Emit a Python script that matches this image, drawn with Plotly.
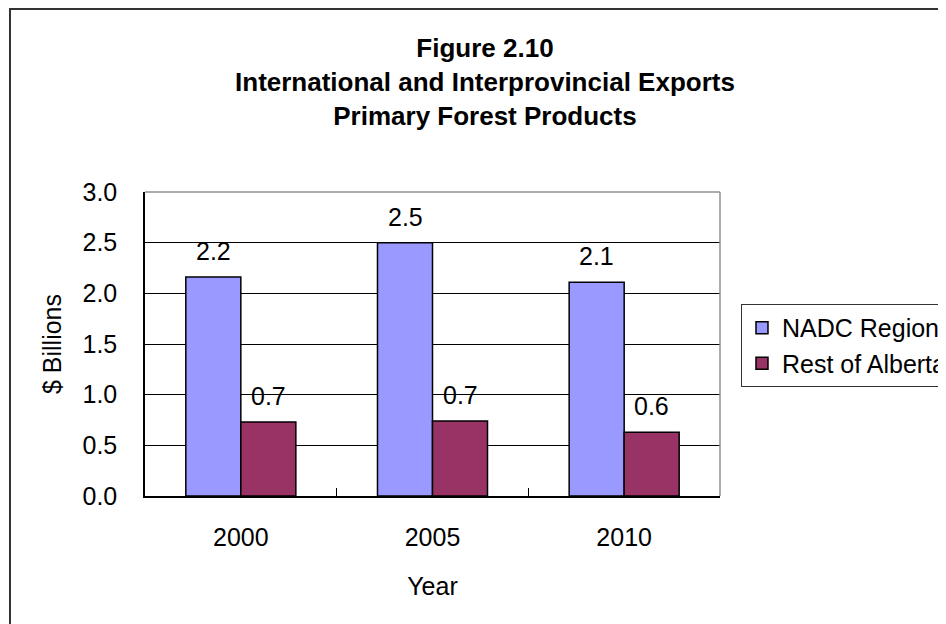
import plotly.graph_objects as go

# 데이터
years = ["2000", "2005", "2010"]
nadc_region = [2.16, 2.50, 2.11]
rest_of_alberta = [0.73, 0.74, 0.63]

series_names = ["NADC Region", "Rest of Alberta"]
series_colors = ["#9999FF", "#993366"]

FONT = "Liberation Sans, Arial, sans-serif"

fig = go.Figure()

for name, vals, col in zip(series_names, [nadc_region, rest_of_alberta], series_colors):
    fig.add_trace(go.Bar(
        x=years,
        y=vals,
        name=name,
        marker=dict(color=col, line=dict(color="#000000", width=1.5)),
        hoverinfo="x+y+name"
    ))

# 막대 위 값 라벨 (막대 위에 조금 띄워서)
# 카테고리축에서 "2000" 같은 문자열은 숫자 인덱스로 읽혀서, 인덱스로 넘긴다
bar_px = 55
annos = []
for i, vals in enumerate([nadc_region, rest_of_alberta]):
    shift = -bar_px / 2 if i == 0 else bar_px / 2
    for j, v in enumerate(vals):
        annos.append(dict(
            x=j, y=v, xref="x", yref="y",
            text=f"{v:.1f}", showarrow=False,
            xanchor="center", yanchor="bottom",
            xshift=shift, yshift=10,
            font=dict(family=FONT, size=25, color="#000000")
        ))

# 바깥 테두리 + 플롯영역 위/오른쪽 회색선
shapes = [
    dict(type="rect", xref="paper", yref="paper",
         x0=-0.2348, y0=-0.6, x1=1.6, y1=1.602,
         line=dict(color="#333333", width=2), layer="below"),
    dict(type="line", xref="paper", yref="paper",
         x0=0, y0=1, x1=1, y1=1, line=dict(color="#909090", width=1.5), layer="above"),
    dict(type="line", xref="paper", yref="paper",
         x0=1, y0=0, x1=1, y1=1, line=dict(color="#909090", width=1.5), layer="above"),
]

fig.update_layout(
    width=946, height=624,
    paper_bgcolor="white",
    plot_bgcolor="white",
    font=dict(family=FONT, size=25, color="#000000"),
    title=dict(
        text="<b>Figure 2.10<br>International and Interprovincial Exports<br>Primary Forest Products</b>",
        x=0.5042, xanchor="center",
        y=0.921, yanchor="top",
        font=dict(family=FONT, size=26, color="#000000")
    ),
    barmode="group",
    bargap=0.426,
    bargroupgap=0,
    # 페이지 body 여백(8px)만큼 보정
    margin=dict(l=137, r=234, t=184, b=136, autoexpand=False),
    showlegend=True,
    legend=dict(
        x=1.0365, y=0.6316, xanchor="left", yanchor="top",
        bordercolor="#333333", borderwidth=1,
        font=dict(family=FONT, size=25, color="#000000"),
        bgcolor="white",
        tracegroupgap=0
    ),
    annotations=annos,
    shapes=shapes,
    xaxis=dict(
        type="category",
        categoryorder="array", categoryarray=years,
        range=[-0.5, len(years) - 0.5],
        title=dict(text="Year", standoff=27, font=dict(size=25)),
        showline=True, linecolor="#000000", linewidth=2,
        ticks="inside", tickson="boundaries", ticklen=8, tickcolor="#000000", tickwidth=1,
        ticklabelstandoff=18,
        showgrid=False,
        tickfont=dict(size=25)
    ),
    yaxis=dict(
        title=dict(text="$ Billions", standoff=14, font=dict(size=25)),
        range=[0, 3.0],
        tickvals=[0, 0.5, 1.0, 1.5, 2.0, 2.5, 3.0],
        ticktext=["0.0", "0.5", "1.0", "1.5", "2.0", "2.5", "3.0"],
        showline=True, linecolor="#000000", linewidth=1.5,
        showgrid=True, gridcolor="#000000", gridwidth=1,
        ticks="", ticklabelstandoff=21,
        zeroline=False,
        tickfont=dict(size=25)
    )
)

fig.write_html("out.html")
